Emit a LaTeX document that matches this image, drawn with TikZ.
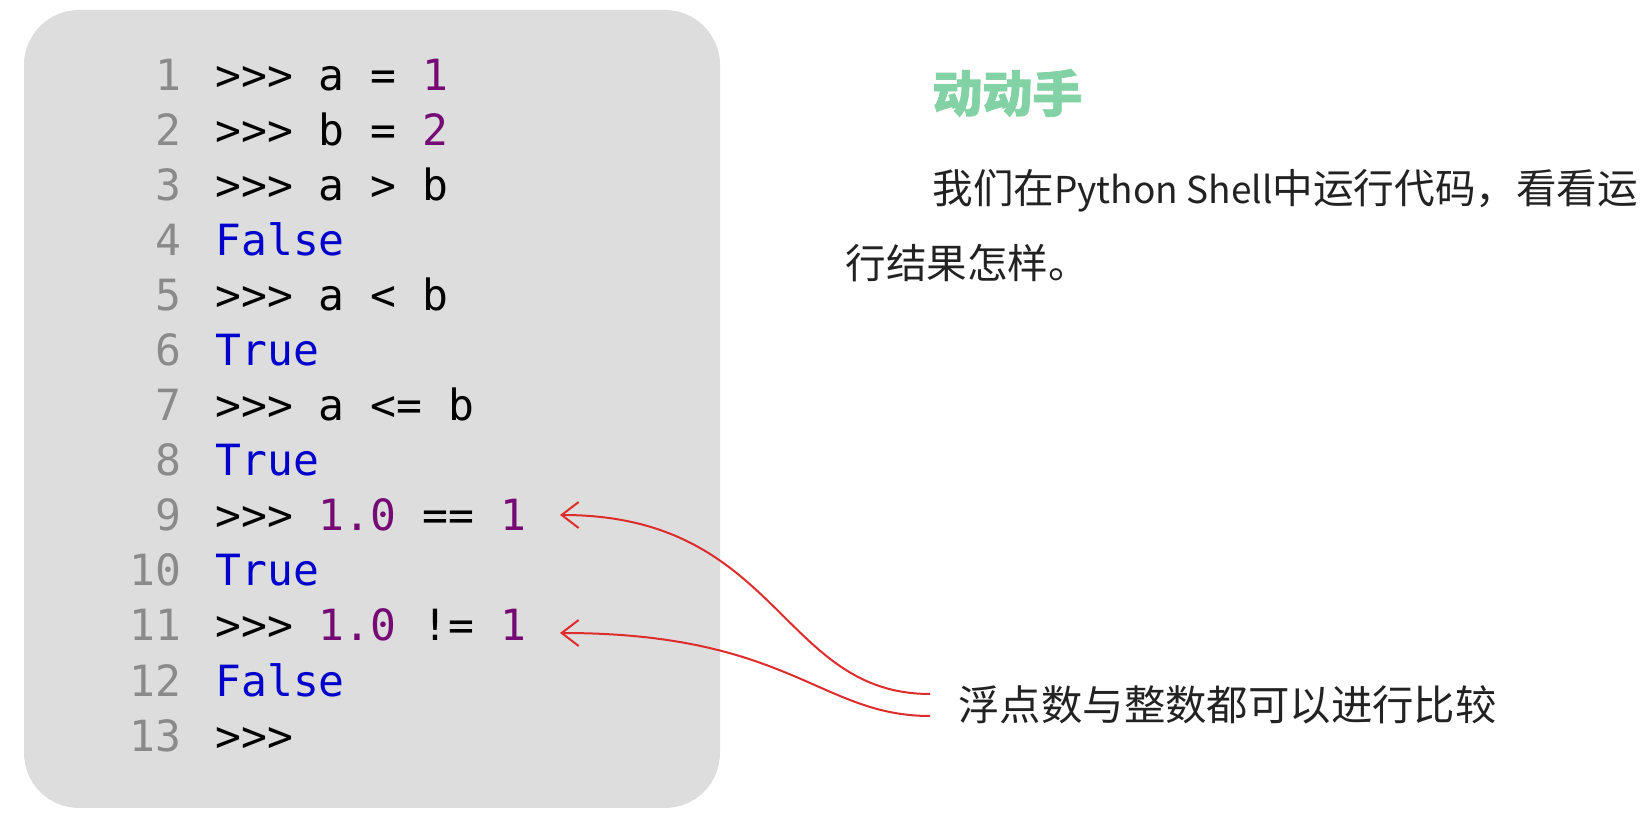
\documentclass[tikz,border=0pt]{standalone}
\usepackage{fontspec}
\setmonofont{DejaVu Sans Mono}
\newfontfamily\cjk{Noto Sans CJK SC}
\usetikzlibrary{arrows.meta}
\definecolor{boxgray}{HTML}{DDDDDD}
\definecolor{numgray}{HTML}{8A8A8A}
\definecolor{numpurple}{HTML}{750A75}
\definecolor{boolblue}{HTML}{0000CC}
\definecolor{titlegreen}{HTML}{82D2A5}
\definecolor{arrowred}{HTML}{DD2C2C}
\definecolor{bodytext}{HTML}{222222}
\newcommand{\codesize}{\fontsize{21.5}{21.5}\selectfont}
\newcommand{\pynum}[1]{\textcolor{numpurple}{#1}}
\newcommand{\pybool}[1]{\textcolor{boolblue}{#1}}
\newcommand{\latinpart}[1]{{\fontsize{18.5}{24}\selectfont #1}}
\tikzset{
  lineno/.style={anchor=base east, inner sep=0pt, text=numgray, font=\ttfamily\codesize},
  code/.style={anchor=base west, inner sep=0pt, text=black, font=\ttfamily\codesize},
  body/.style={anchor=west, inner sep=0pt, text=bodytext, font=\cjk\fontsize{20.3}{24}\selectfont},
  pointer/.style={draw=arrowred, line width=1pt, -{Straight Barb[length=8.5pt,width=13pt]}}
}

\begin{document}
\begin{tikzpicture}[x=0.5pt,y=-0.5pt]
\useasboundingbox (0,0) rectangle (1646,817);
\fill[boxgray, rounded corners=27.5pt] (24,10) rectangle (720,808);
%line numbers
\node[lineno] (n1) at (182,90.5) {1};
\node[lineno] (n2) at (182,145.55) {2};
\node[lineno] (n3) at (182,200.6) {3};
\node[lineno] (n4) at (182,255.65) {4};
\node[lineno] (n5) at (182,310.7) {5};
\node[lineno] (n6) at (182,365.75) {6};
\node[lineno] (n7) at (182,420.8) {7};
\node[lineno] (n8) at (182,475.85) {8};
\node[lineno] (n9) at (182,530.9) {9};
\node[lineno] (n10) at (182,585.95) {10};
\node[lineno] (n11) at (182,641.0) {11};
\node[lineno] (n12) at (182,696.05) {12};
\node[lineno] (n13) at (182,751.1) {13};
%shell lines
\node[code] (1) at (215,90.5) {>>> a = \pynum{1}};
\node[code] (2) at (215,145.55) {>>> b = \pynum{2}};
\node[code] (3) at (215,200.6) {>>> a > b};
\node[code] (4) at (215,255.65) {\pybool{False}};
\node[code] (5) at (215,310.7) {>>> a < b};
\node[code] (6) at (215,365.75) {\pybool{True}};
\node[code] (7) at (215,420.8) {>>> a <= b};
\node[code] (8) at (215,475.85) {\pybool{True}};
\node[code] (9) at (215,530.9) {>>> \pynum{1.0} == \pynum{1}};
\node[code] (10) at (215,585.95) {\pybool{True}};
\node[code] (11) at (215,641.0) {>>> \pynum{1.0} != \pynum{1}};
\node[code] (12) at (215,696.05) {\pybool{False}};
\node[code] (13) at (215,751.1) {>>>};
%text
\node[anchor=west, inner sep=0pt, text=titlegreen, font=\cjk\bfseries\fontsize{25}{25}\selectfont\addfontfeature{FakeBold=1.5}] (title) at (932,93) {动动手};
\node[body] (p1) at (932,191) {我们在\latinpart{Python Shell}中运行代码，看看运};
\node[body] (p2) at (845,263) {行结果怎样。};
\node[body, font=\cjk\fontsize{20.7}{24}\selectfont] (cap) at (958,705) {浮点数与整数都可以进行比较};
%arrows
\coordinate (t9) at (560,515);
\coordinate (t11) at (560,633);
\coordinate (e9) at (930,694);
\coordinate (e11) at (930,716);
\draw[pointer] (e9) .. controls +(-150,0) and +(220,0) .. (t9);
\draw[pointer] (e11) .. controls +(-110,0) and +(230,0) .. (t11);
\end{tikzpicture}
\end{document}
